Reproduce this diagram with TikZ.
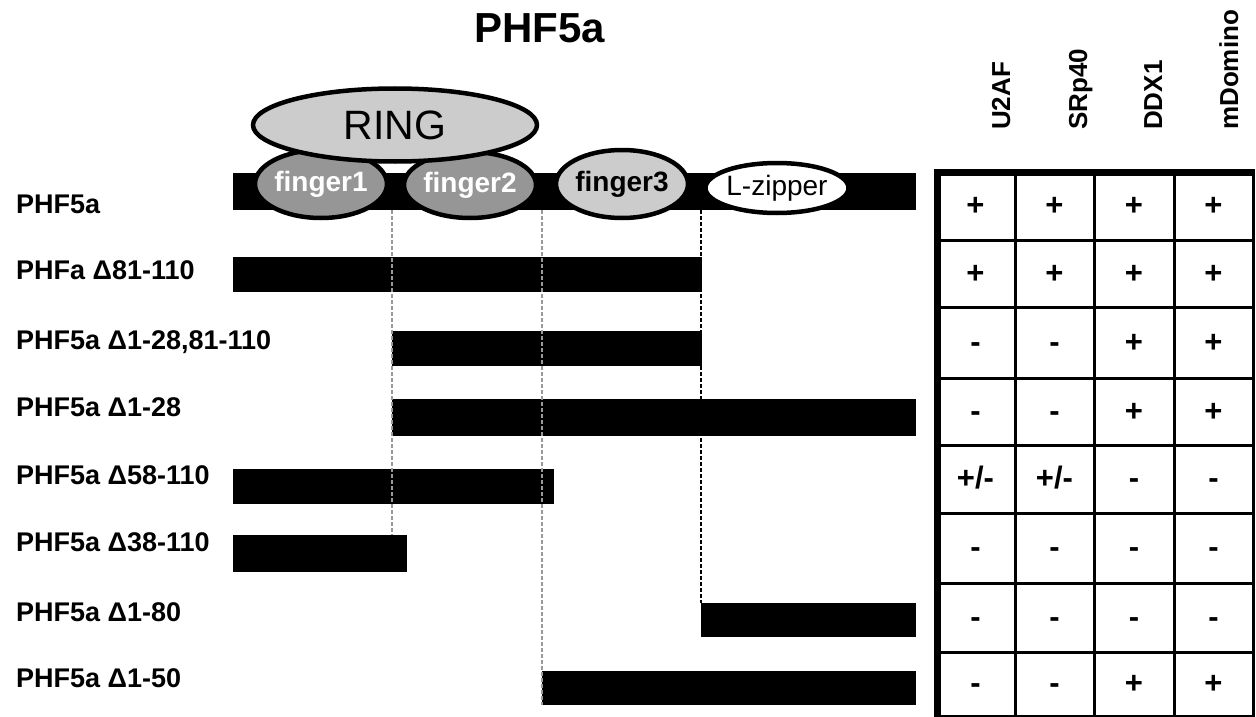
\documentclass[tikz,border=0pt]{standalone}
\usepackage{fontspec}
\setmainfont{Liberation Sans}
\usetikzlibrary{shapes.geometric}
\definecolor{lightg}{HTML}{CCCCCC}
\definecolor{darkg}{HTML}{969696}
\newcommand{\PMsym}{+/-}
\tikzset{
  bar/.style={rectangle, fill=black, draw=none, inner sep=0pt, outer sep=0pt},
  rowlabel/.style={anchor=base west, inner sep=0pt, font=\bfseries\fontsize{27}{30}\selectfont},
  dom/.style={ellipse, draw=black, line width=4.5pt, inner sep=0pt, outer sep=0pt},
  fingtext/.style={font=\bfseries\fontsize{28}{30}\selectfont},
  guide/.style={dash pattern=on 4pt off 2pt, line width=2pt},
  head/.style={rotate=90, anchor=base west, inner sep=0pt, font=\bfseries\fontsize{26}{30}\selectfont},
  cellsym/.style={anchor=base, inner sep=0pt, font=\bfseries\fontsize{31}{34}\selectfont},
  thingrid/.style={line width=3pt},
  thickgrid/.style={line width=7pt, line cap=rect}
}
\begin{document}
\begin{tikzpicture}[x=1pt,y=-1pt]
\useasboundingbox (0,0) rectangle (1256,717);

% title
\node[anchor=base, inner sep=0pt, font=\bfseries\fontsize{42}{48}\selectfont] (title) at (540,43) {PHF5a};

% bars
\node[bar, minimum width=683pt, minimum height=37pt] (b1) at (574.5,191.5) {};
\node[bar, minimum width=469pt, minimum height=35pt] (b2) at (467.5,274.5) {};
\node[bar, minimum width=310pt, minimum height=35pt] (b3) at (547,348.5) {};
\node[bar, minimum width=524pt, minimum height=37pt] (b4) at (654,417.5) {};
\node[bar, minimum width=321pt, minimum height=35pt] (b5) at (393.5,486.5) {};
\node[bar, minimum width=174pt, minimum height=37pt] (b6) at (320,553.5) {};
\node[bar, minimum width=215pt, minimum height=34pt] (b7) at (808.5,620) {};
\node[bar, minimum width=374pt, minimum height=34pt] (b8) at (729,688) {};

% guide lines
\draw[guide, gray!80] (b1.south -| b3.west) -- (b6.north -| b3.west);
\draw[guide, gray!80] (b1.south -| b8.west) -- (b8.south west);
\draw[guide, black] (b1.south -| b7.west) -- (b7.north west);

% domains
\node[dom, fill=darkg, minimum width=117pt, minimum height=68pt, fingtext, text=white] (f1) at (321,184) {finger1};
\node[dom, fill=darkg, minimum width=115pt, minimum height=66pt, fingtext, text=white] (f2) at (470,185) {finger2};
\node[dom, fill=lightg, minimum width=101pt, minimum height=68pt, fingtext] (f3) at (622,184) {finger3};
\node[dom, fill=white, minimum width=141pt, minimum height=50pt, font=\fontsize{28}{32}\selectfont] (lz) at (777,188) {L-zipper};
\node[dom, fill=lightg, minimum width=284pt, minimum height=73pt, font=\fontsize{41}{46}\selectfont] (ring) at (395,125) {RING};

% row labels
\node[rowlabel] (l1) at (16,213) {PHF5a};
\node[rowlabel] (l2) at (16,279) {PHFa Δ81-110};
\node[rowlabel] (l3) at (16,349) {PHF5a Δ1-28,81-110};
\node[rowlabel] (l4) at (16,416) {PHF5a Δ1-28};
\node[rowlabel] (l5) at (16,484) {PHF5a Δ58-110};
\node[rowlabel] (l6) at (16,551) {PHF5a Δ38-110};
\node[rowlabel] (l7) at (16,621) {PHF5a Δ1-80};
\node[rowlabel] (l8) at (16,687) {PHF5a Δ1-50};

% column headers
\node[head] (h1) at (1010,130) {U2AF};
\node[head] (h2) at (1087,130) {SRp40};
\node[head] (h3) at (1162,130) {DDX1};
\node[head] (h4) at (1238,130) {mDomino};

% table grid
\draw[thingrid] (937,172) rectangle (1253,716);
\foreach \gx in {1015,1094,1174} \draw[thingrid] (\gx,172) -- (\gx,716);
\foreach \gy in {240,307,378,445,513,583,652} \draw[thingrid] (937,\gy) -- (1253,\gy);
\draw[thickgrid] (937,172) -- (937,716);
\draw[thickgrid] (937,172) -- (1251,172);

% table entries (baseline = row centre + 9.5)
\foreach \ry/\va/\vb/\vc/\vd [count=\r] in {
  215.5/+/+/+/+,
  283/+/+/+/+,
  352/-/-/+/+,
  421/-/-/+/+,
  488.5/\PMsym/\PMsym/-/-,
  557.5/-/-/-/-,
  627/-/-/-/-,
  693.5/-/-/+/+}{
  \node[cellsym] (c\r a) at (975.5,\ry) {\va};
  \node[cellsym] (c\r b) at (1054.5,\ry) {\vb};
  \node[cellsym] (c\r c) at (1134,\ry) {\vc};
  \node[cellsym] (c\r d) at (1213.5,\ry) {\vd};
}
\end{tikzpicture}
\end{document}
